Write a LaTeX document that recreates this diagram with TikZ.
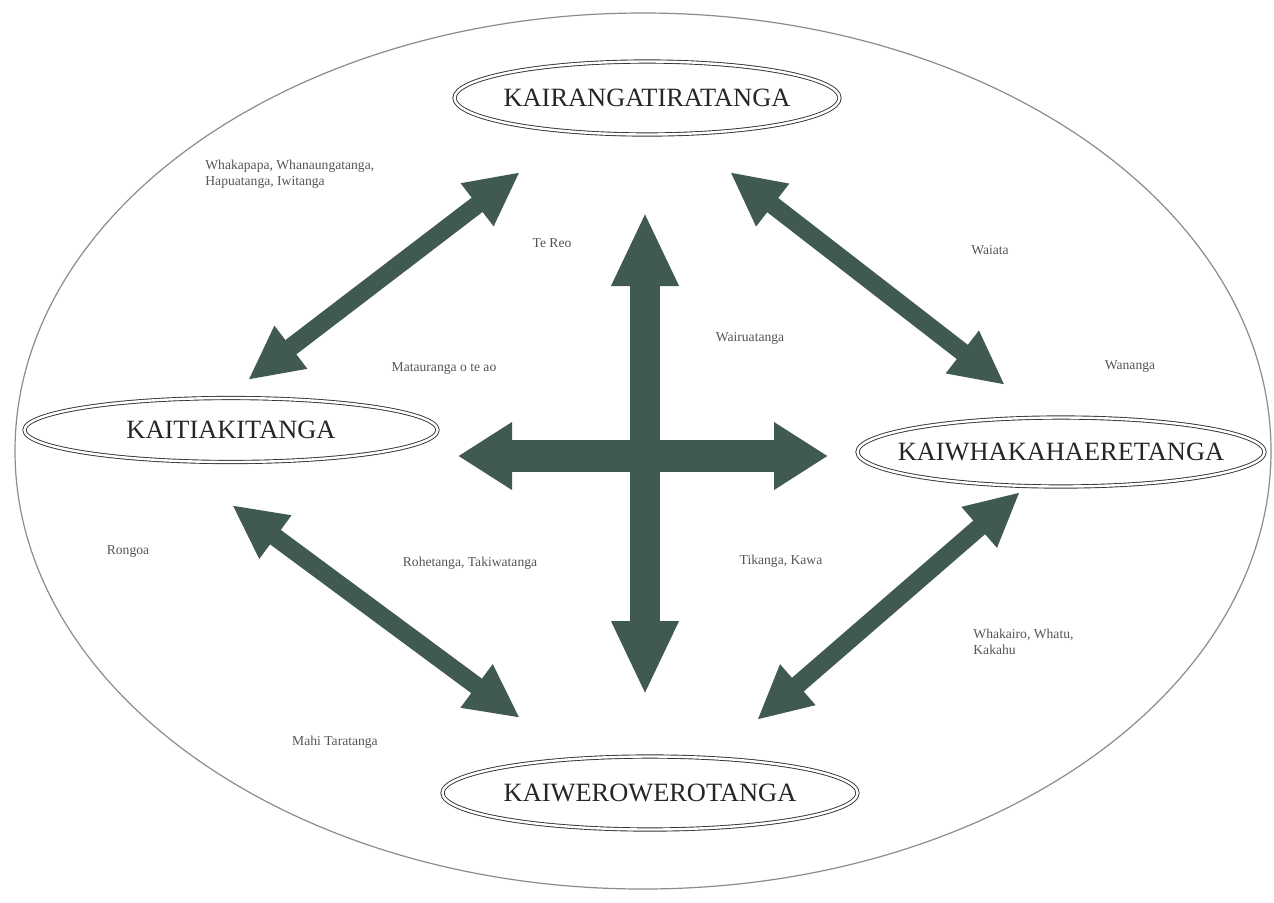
\documentclass[tikz,border=0pt]{standalone}
\usepackage{fontspec}
\setmainfont{Liberation Serif}
\usetikzlibrary{arrows.meta,shapes.geometric}
\definecolor{arrowgreen}{HTML}{405A51}
\definecolor{labelgrey}{HTML}{555555}
\newcommand{\realmname}[1]{\makebox[0pt]{#1}}
\begin{document}
\begin{tikzpicture}[x=0.5pt,y=-0.5pt,
  realm/.style={ellipse,draw=black!80,double=white,double distance=1.2pt,line width=0.45pt,
    inner sep=0pt,font=\fontsize{13.2}{15}\selectfont,text=black!85},
  note/.style={font=\fontsize{6.8}{8}\selectfont,text=labelgrey,inner sep=0pt},
  notel/.style={note,anchor=west,align=left},
  link/.style={draw=arrowgreen,line width=9pt,
    {Triangle[width=25pt,length=27pt]}-{Triangle[width=25pt,length=27pt]}},
  axisv/.style={draw=arrowgreen,line width=15pt,
    {Triangle[width=31pt,length=37pt]}-{Triangle[width=31pt,length=37pt]}},
  axish/.style={draw=arrowgreen,line width=16pt,
    {Triangle[width=32pt,length=27pt]}-{Triangle[width=32pt,length=27pt]}}]
\useasboundingbox[fill=white] (0,0) rectangle (1274,902);

% outer boundary
\draw[black!45,line width=0.6pt] (643,451) ellipse [x radius=628,y radius=438];

% the four realms
\node[realm,minimum width=192.5pt,minimum height=36.5pt] (top) at (647,98) {\realmname{KAIRANGATIRATANGA}};
\node[realm,minimum width=206.5pt,minimum height=32pt] (left) at (231,430) {\realmname{KAITIAKITANGA}};
\node[realm,minimum width=203.5pt,minimum height=34.5pt] (right) at (1061,452) {\realmname{KAIWHAKAHAERETANGA}};
\node[realm,minimum width=207.5pt,minimum height=36.5pt] (bottom) at (650,793) {\realmname{KAIWEROWEROTANGA}};

% arrow end points
\coordinate (tlA) at (520,172);
\coordinate (tlB) at (248,380);
\coordinate (trA) at (730,172);
\coordinate (trB) at (1005,385);
\coordinate (blA) at (232,505);
\coordinate (blB) at (520,718);
\coordinate (brA) at (1020,492);
\coordinate (brB) at (757,720);
\coordinate (vA) at (645,212);
\coordinate (vB) at (645,695);
\coordinate (hA) at (458,456);
\coordinate (hB) at (828,456);

\draw[link] (tlA) -- (tlB);
\draw[link] (trA) -- (trB);
\draw[link] (blA) -- (blB);
\draw[link] (brA) -- (brB);
\draw[axisv] (vA) -- (vB);
\draw[axish] (hA) -- (hB);

% labels
\node[notel] (l1) at (205,174) {Whakapapa, Whanaungatanga,\\Hapuatanga, Iwitanga};
\node[note] (l2) at (552,243) {Te Reo};
\node[note] (l3) at (990,250) {Waiata};
\node[note] (l4) at (750,338) {Wairuatanga};
\node[note] (l5) at (444,368) {Matauranga o te ao};
\node[note] (l6) at (1130,366) {Wananga};
\node[note] (l7) at (128,551) {Rongoa};
\node[note] (l8) at (470,563) {Rohetanga, Takiwatanga};
\node[note] (l9) at (781,561) {Tikanga, Kawa};
\node[notel] (l10) at (973,642) {Whakairo, Whatu,\\Kakahu};
\node[note] (l11) at (335,742) {Mahi Taratanga};
\end{tikzpicture}
\end{document}
